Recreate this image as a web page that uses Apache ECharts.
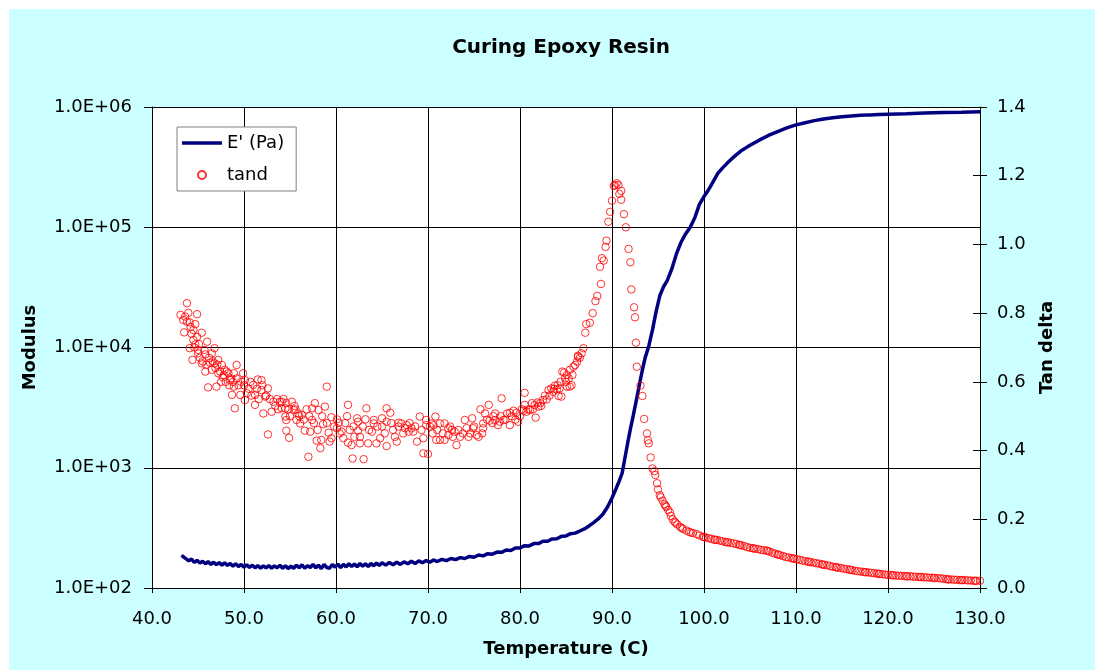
<!DOCTYPE html>
<html>
<head>
<meta charset="utf-8">
<script src="https://cdn.jsdelivr.net/npm/echarts@6/dist/echarts.min.js"></script>
<style>
html,body{margin:0;padding:0;background:#fff;}
#chart{width:1095px;height:670px;}
</style>
</head>
<body>
<div id="chart"></div>
<script>
// ---- data ----
const chartTitle = 'Curing Epoxy Resin';
const xTicks = [40, 130, 10];          // min, max, interval (Temperature, C)
const tanTicks = [0, 1.4, 0.2];        // min, max, interval (Tan delta)
const modulusRange = [1e2, 1e6];

// E' (Pa) vs temperature
const modulusData = [
[43.2,187],[43.4,180],[43.6,177],[43.8,180],[44.0,168],[44.3,174],[44.6,163],[44.9,170],[45.2,161],[45.5,167],
[45.8,159],[46.1,166],[46.4,157],[46.7,164],[47.0,156],[47.3,163],[47.6,155],[47.9,162],[48.2,154],[48.5,160],
[48.8,152],[49.1,159],[49.4,151],[49.7,157],[50.0,149],[50.3,156],[50.6,148],[50.9,155],[51.2,147],[51.5,154],
[51.8,146],[52.1,153],[52.4,147],[52.7,154],[53.0,146],[53.3,153],[53.6,147],[53.9,155],[54.2,146],[54.5,153],
[54.8,145],[55.1,152],[55.4,146],[55.7,155],[56.0,147],[56.3,156],[56.6,146],[56.9,153],[57.2,148],[57.5,157],
[57.8,147],[58.1,155],[58.4,145],[58.7,157],[59.0,148],[59.3,146],[59.6,157],[59.9,149],[60.2,158],[60.5,148],
[60.8,157],[61.1,150],[61.4,159],[61.7,151],[62.0,158],[62.3,150],[62.6,160],[62.9,152],[63.2,159],[63.5,151],
[63.8,160],[64.1,153],[64.4,161],[64.7,154],[65.0,162],[65.4,155],[65.8,163],[66.2,156],[66.6,164],[67.0,157],
[67.4,165],[67.8,159],[68.2,167],[68.6,160],[69.0,168],[69.4,162],[69.8,169],[70.2,164],[70.6,171],[71.0,166],
[71.5,173],[72.0,169],[72.5,176],[73.0,172],[73.5,179],[74.0,176],[74.5,183],[75.0,180],[75.5,188],[76.0,185],
[76.5,193],[77.0,191],[77.5,199],[78.0,198],[78.5,207],[79.0,205],[79.5,215],[80.0,215],[80.5,225],[81.0,224],
[81.5,234],[82.0,234],[82.5,245],[83.0,245],[83.5,256],[84.0,257],[84.5,269],[85.0,271],[85.5,283],[86.0,286],
[86.5,298],[87.0,310],[87.5,328],[88.0,350],[88.5,375],[89.0,410],[89.5,470],[90.0,560],[90.4,660],[90.8,780],
[91.1,900],[91.4,1200],[91.7,1600],[92.0,2100],[92.3,2700],[92.6,3500],[93.0,5000],[93.3,6500],[93.6,8200],[94.0,10300],
[94.4,14000],[94.8,20000],[95.2,27000],[95.6,32000],[96.0,36000],[96.5,45000],[97.0,60000],[97.5,75000],[98.0,88000],[98.5,100000],
[99.0,120000],[99.5,155000],[100.0,180000],[100.5,205000],[101.0,240000],[101.5,280000],[102.0,310000],[102.5,340000],[103.0,370000],[103.5,400000],
[104.0,430000],[104.5,455000],[105.0,480000],[106.0,530000],[107.0,580000],[108.0,625000],[109.0,670000],[110.0,710000],[111.0,740000],[112.0,770000],
[113.0,795000],[114.0,815000],[115.0,830000],[116.0,842000],[117.0,852000],[118.0,860000],[119.0,866000],[120.0,872000],[122.0,880000],[124.0,890000],
[126.0,898000],[128.0,906000],[130.0,915000]
];

// tan delta vs temperature
const tandData = [
[43.1,0.795],[43.4,0.78],[43.5,0.744],[43.8,0.829],[43.8,0.775],[43.95,0.801],[44.1,0.773],[44.1,0.698],[44.4,0.664],[44.5,0.751],
[44.5,0.722],[44.7,0.768],[44.7,0.709],[44.9,0.797],[44.9,0.731],[45.0,0.693],[45.0,0.683],[45.4,0.743],[45.4,0.654],[45.7,0.693],
[45.8,0.68],[45.8,0.63],[46.0,0.717],[46.1,0.584],[46.3,0.656],[46.5,0.683],[46.5,0.635],[46.8,0.698],[46.8,0.654],[47.0,0.586],
[47.2,0.664],[47.2,0.625],[47.6,0.649],[47.7,0.613],[47.9,0.635],[48.3,0.625],[48.5,0.605],[48.7,0.562],[48.9,0.625],[48.9,0.586],
[49.0,0.523],[49.2,0.649],[49.2,0.61],[49.6,0.562],[49.9,0.625],[50.1,0.605],[50.1,0.547],[50.3,0.567],[51.0,0.591],[51.2,0.562],
[51.2,0.533],[51.5,0.607],[51.9,0.605],[51.9,0.576],[52.1,0.508],[52.3,0.557],[52.6,0.581],[52.6,0.447],[53.0,0.513],[53.2,0.542],
[53.9,0.542],[54.1,0.523],[54.1,0.542],[54.5,0.523],[54.5,0.499],[54.6,0.538],[54.6,0.489],[54.6,0.458],[54.9,0.437],[55.2,0.542],
[55.4,0.518],[55.5,0.53],[55.7,0.489],[55.9,0.508],[56.1,0.479],[56.3,0.504],[56.6,0.458],[57.0,0.382],[57.2,0.455],[57.4,0.523],
[57.4,0.489],[57.7,0.538],[57.9,0.429],[58.1,0.518],[58.3,0.407],[58.4,0.431],[58.6,0.477],[58.8,0.528],[59.0,0.586],[59.2,0.452],
[59.3,0.426],[59.5,0.497],[59.5,0.436],[60.1,0.491],[60.1,0.465],[60.3,0.481],[60.6,0.455],[60.8,0.436],[61.2,0.5],[61.3,0.533],
[61.3,0.423],[61.5,0.46],[61.7,0.416],[61.8,0.377],[62.3,0.494],[62.4,0.484],[62.4,0.458],[62.6,0.44],[62.6,0.421],[63.0,0.375],
[63.2,0.491],[63.3,0.523],[63.5,0.421],[63.9,0.455],[64.1,0.489],[64.1,0.479],[64.4,0.421],[64.8,0.436],[65.0,0.494],[65.0,0.47],
[65.5,0.523],[65.5,0.484],[65.5,0.413],[65.9,0.51],[66.2,0.46],[66.6,0.426],[66.8,0.481],[66.8,0.47],[67.1,0.479],[67.5,0.465],
[67.7,0.474],[67.9,0.455],[68.2,0.465],[68.4,0.455],[68.8,0.426],[69.1,0.499],[69.5,0.436],[69.5,0.392],[69.8,0.474],[69.8,0.489],
[70.0,0.39],[70.2,0.47],[70.4,0.479],[70.6,0.474],[70.8,0.499],[70.9,0.431],[71.3,0.479],[71.3,0.431],[71.8,0.479],[71.8,0.431],
[72.2,0.465],[72.2,0.445],[72.6,0.46],[72.7,0.44],[72.9,0.455],[73.1,0.416],[73.5,0.44],[74.0,0.489],[74.2,0.465],[74.4,0.44],
[74.6,0.45],[74.8,0.494],[74.9,0.465],[75.3,0.445],[75.5,0.44],[75.7,0.52],[76.0,0.479],[76.0,0.465],[76.2,0.508],[76.6,0.533],
[76.7,0.487],[77.0,0.48],[77.3,0.508],[77.3,0.489],[77.6,0.474],[77.8,0.484],[78.0,0.552],[78.2,0.489],[78.6,0.508],[78.9,0.474],
[78.9,0.51],[79.3,0.516],[79.6,0.51],[79.8,0.484],[80.4,0.516],[80.5,0.568],[80.5,0.533],[80.7,0.513],[81.1,0.518],[81.3,0.538],
[81.6,0.533],[81.7,0.496],[82.0,0.528],[82.2,0.538],[82.5,0.547],[82.9,0.549],[83.1,0.576],[83.4,0.581],[83.6,0.571],[83.8,0.589],
[84.0,0.578],[84.2,0.559],[84.3,0.581],[84.5,0.557],[84.6,0.63],[84.8,0.627],[85.0,0.6],[85.1,0.586],[85.1,0.62],[85.4,0.586],
[85.4,0.635],[85.6,0.59],[85.8,0.644],[86.0,0.649],[86.2,0.659],[86.3,0.673],[86.3,0.676],[86.7,0.683],[86.9,0.698],[87.1,0.743],
[87.2,0.768],[87.6,0.772],[87.9,0.80],[88.2,0.835],[88.4,0.85],[88.7,0.935],[88.8,0.885],[88.9,0.96],[89.1,0.953],[89.3,0.993],
[89.4,1.011],[89.6,1.066],[89.8,1.095],[90.0,1.127],[90.2,1.17],[90.3,1.173],[90.5,1.178],[90.7,1.173],[90.8,1.147],[91.0,1.156],
[91.0,1.13],[91.3,1.088],[91.5,1.05],[91.8,0.987],[92.0,0.948],[92.1,0.869],[92.4,0.817],[92.5,0.788],[92.6,0.714],[92.7,0.644],
[93.1,0.589],[93.3,0.559],[93.5,0.492],[93.8,0.45],[94.0,0.421],[94.2,0.38],[94.4,0.348],[94.7,0.329],[94.9,0.305],[95.0,0.287],
[95.3,0.264],[95.5,0.254],[95.7,0.244],[95.9,0.236],[96.1,0.227],[96.4,0.21],[96.6,0.2],[96.8,0.193],[97.1,0.185],[97.4,0.178],
[97.7,0.172],[98.1,0.167],[98.4,0.163],[98.8,0.16],[99.2,0.157],[99.5,0.153],[99.9,0.149],[100.2,0.147],[100.5,0.145],[100.8,0.143],
[101.1,0.141],[101.4,0.14],[101.7,0.138],[102.0,0.136],[102.3,0.134],[102.6,0.133],[102.9,0.131],[103.2,0.13],[103.5,0.128],[103.8,0.126],
[104.1,0.124],[104.4,0.122],[104.7,0.119],[105.0,0.117],[105.3,0.116],[105.6,0.114],[105.9,0.113],[106.2,0.111],[106.5,0.11],[106.8,0.109],
[107.1,0.106],[107.4,0.103],[107.7,0.1],[108.0,0.098],[108.3,0.095],[108.6,0.093],[108.9,0.09],[109.2,0.089],[109.5,0.087],[109.8,0.085],
[110.1,0.0835],[110.4,0.082],[110.7,0.08],[111.0,0.078],[111.3,0.077],[111.6,0.075],[111.9,0.074],[112.2,0.072],[112.5,0.071],[112.8,0.069],
[113.1,0.067],[113.4,0.066],[113.7,0.064],[114.0,0.062],[114.3,0.061],[114.6,0.059],[114.9,0.058],[115.2,0.056],[115.5,0.055],[115.8,0.053],
[116.1,0.052],[116.4,0.05],[116.7,0.049],[117.0,0.048],[117.3,0.047],[117.6,0.046],[117.9,0.045],[118.2,0.044],[118.5,0.043],[118.8,0.042],
[119.1,0.041],[119.4,0.04],[119.7,0.039],[120.0,0.038],[120.3,0.038],[120.6,0.037],[120.9,0.036],[121.2,0.036],[121.5,0.035],[121.8,0.035],
[122.1,0.034],[122.4,0.034],[122.7,0.033],[123.0,0.033],[123.3,0.032],[123.6,0.032],[123.9,0.031],[124.2,0.031],[124.5,0.030],[124.8,0.030],
[125.1,0.029],[125.4,0.029],[125.7,0.028],[126.0,0.027],[126.3,0.026],[126.6,0.025],[126.9,0.025],[127.2,0.024],[127.5,0.024],[127.8,0.023],
[128.1,0.023],[128.4,0.023],[128.7,0.022],[129.0,0.022],[129.3,0.021],[129.6,0.021],[130.0,0.021],
// additional points of the dense cloud (43-88 C) and of the tail
[43.6,0.79],[44.2,0.76],[44.3,0.74],[44.6,0.70],[45.1,0.71],[45.2,0.67],[45.5,0.66],[45.9,0.65],[46.2,0.67],[46.6,0.66],
[46.9,0.64],[47.1,0.65],[47.4,0.63],[47.5,0.60],[47.8,0.62],[48.0,0.60],[48.1,0.63],[48.4,0.59],[48.6,0.61],[48.8,0.60],
[49.4,0.59],[49.7,0.60],[50.0,0.59],[50.5,0.58],[50.7,0.60],[50.8,0.56],[51.4,0.58],[51.6,0.55],[52.0,0.59],[52.4,0.56],
[52.8,0.55],[53.4,0.53],[53.6,0.55],[53.7,0.52],[54.3,0.55],[54.8,0.52],[55.0,0.50],[55.6,0.52],[56.0,0.50],[56.5,0.49],
[56.8,0.52],[57.1,0.50],[57.6,0.48],[58.0,0.46],[58.5,0.50],[59.0,0.48],[59.8,0.47],[60.4,0.45],[61.0,0.48],[61.9,0.47],
[62.0,0.44],[62.9,0.47],[63.6,0.46],[64.5,0.47],[65.3,0.45],[66.0,0.48],[66.4,0.44],[67.3,0.45],[68.0,0.48],[68.6,0.47],
[69.3,0.46],[70.5,0.45],[71.0,0.46],[71.6,0.45],[72.4,0.47],[73.3,0.46],[73.8,0.45],[75.0,0.47],[75.9,0.45],[76.4,0.49],
[77.1,0.50],[77.9,0.50],[78.4,0.49],[79.1,0.50],[79.5,0.49],[80.0,0.50],[80.2,0.52],[80.9,0.52],[81.4,0.52],[81.9,0.54],
[82.3,0.53],[82.7,0.56],[83.2,0.56],[83.7,0.58],[84.1,0.59],[84.4,0.60],[84.9,0.61],[85.3,0.61],[85.7,0.62],[86.5,0.67],
[93.9,0.43],[94.6,0.34],[95.2,0.27],[95.8,0.24],[96.3,0.22],[96.9,0.19],[97.6,0.175],[98.6,0.161],[100.0,0.148],[101.2,0.14],
[102.5,0.133],[103.9,0.125],[105.4,0.115],[106.9,0.108],[108.1,0.097],[109.7,0.086],[111.4,0.076],[112.9,0.068],[114.4,0.06],[115.9,0.053],
[117.5,0.046],[119.0,0.041],[120.5,0.037],[122.0,0.034],[123.5,0.032],[125.0,0.029],[126.5,0.025],[128.0,0.023],[129.5,0.021]
];

// ---- chart ----
const FONT = 'DejaVu Sans';
const chart = echarts.init(document.getElementById('chart'), null, {renderer: 'canvas'});
const black = '#000';
const option = {
  animation: false,
  backgroundColor: '#ffffff',
  graphic: [{
    type: 'rect', z: -100, silent: true,
    shape: {x: 9, y: 9, width: 1086, height: 661},
    style: {fill: '#CCFFFF'}
  }],
  title: {
    text: chartTitle, left: 556, top: 33, textAlign: 'center',
    textStyle: {fontFamily: FONT, fontSize: 20, fontWeight: 'bold', color: black}
  },
  legend: {
    left: 177, top: 127, orient: 'vertical',
    backgroundColor: '#fff', borderColor: '#808080', borderWidth: 1,
    padding: [7, 12, 7, 5], itemGap: 14, itemWidth: 40, itemHeight: 8,
    textStyle: {fontFamily: FONT, fontSize: 18, color: black},
    data: [
      {name: "E' (Pa)", icon: 'path://M0,0L40,0L40,3.5L0,3.5Z', itemStyle: {color: '#000080'}},
      {name: 'tand'}
    ]
  },
  grid: {
    left: 152, right: 115, top: 107, bottom: 82,
    show: true, backgroundColor: '#ffffff', borderWidth: 0
  },
  xAxis: {
    type: 'value', min: xTicks[0], max: xTicks[1], interval: xTicks[2],
    name: 'Temperature (C)', nameLocation: 'middle', nameGap: 52,
    nameTextStyle: {fontFamily: FONT, fontSize: 18, fontWeight: 'bold', color: black},
    axisLine: {lineStyle: {color: black, width: 1}},
    axisTick: {show: true, length: 5, lineStyle: {color: black}},
    axisLabel: {fontFamily: FONT, fontSize: 18, color: black, margin: 22,
      formatter: v => v.toFixed(1)},
    splitLine: {show: true, lineStyle: {color: black, width: 1}}
  },
  yAxis: [{
    type: 'log', logBase: 10, min: modulusRange[0], max: modulusRange[1], position: 'left',
    name: 'Modulus', nameLocation: 'middle', nameGap: 113, nameRotate: 90,
    nameTextStyle: {fontFamily: FONT, fontSize: 18, fontWeight: 'bold', color: black},
    axisLine: {show: true, lineStyle: {color: black, width: 1}},
    axisTick: {show: true, length: 8, lineStyle: {color: black}},
    minorTick: {show: false},
    axisLabel: {fontFamily: FONT, fontSize: 18, color: black, margin: 20,
      formatter: v => { const e = Math.round(Math.log10(v)); return '1.0E+' + (e < 10 ? '0' : '') + e; }},
    splitLine: {show: true, lineStyle: {color: black, width: 1}}
  }, {
    type: 'value', min: tanTicks[0], max: tanTicks[1], interval: tanTicks[2], position: 'right',
    name: 'Tan delta', nameLocation: 'middle', nameGap: 58, nameRotate: 90,
    nameTextStyle: {fontFamily: FONT, fontSize: 18, fontWeight: 'bold', color: black},
    axisLine: {show: true, lineStyle: {color: black, width: 1}},
    axisTick: {show: true, length: 7, lineStyle: {color: black}},
    axisLabel: {fontFamily: FONT, fontSize: 18, color: black, margin: 17,
      formatter: v => v.toFixed(1)},
    splitLine: {show: false}
  }, {
    type: 'value', min: tanTicks[0], max: tanTicks[1], interval: tanTicks[2], position: 'right',
    axisLine: {show: false},
    axisTick: {show: true, inside: true, length: 7, lineStyle: {color: black}},
    axisLabel: {show: false},
    splitLine: {show: false}
  }],
  series: [{
    name: "E' (Pa)", type: 'line', yAxisIndex: 0, data: modulusData,
    symbol: 'none', showSymbol: false, z: 2,
    lineStyle: {color: '#000080', width: 3.5},
    itemStyle: {color: '#000080'}
  }, {
    name: 'tand', type: 'scatter', yAxisIndex: 1, data: tandData,
    symbol: 'circle', symbolSize: 7.5, z: 3,
    itemStyle: {color: 'rgba(255,255,255,0)', borderColor: '#FF0000', borderWidth: 1}
  }]
};
chart.setOption(option);
</script>
</body>
</html>
